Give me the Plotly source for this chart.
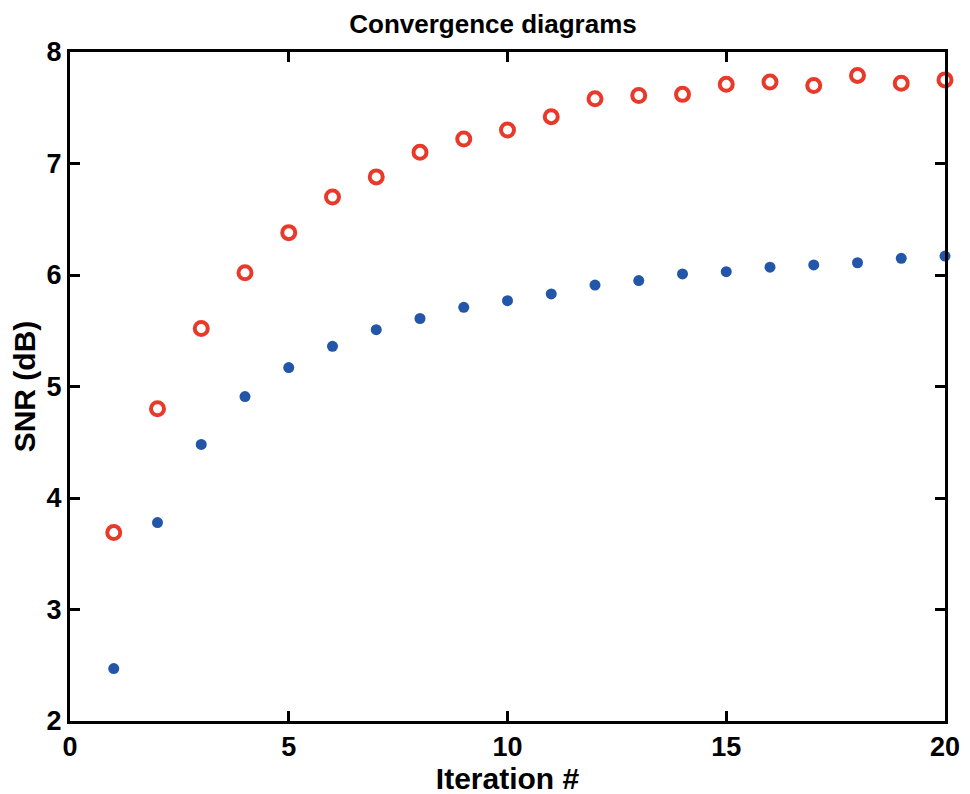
import plotly.graph_objects as go

iterations = list(range(1, 21))
snr_red = [3.69, 4.80, 5.52, 6.02, 6.38, 6.70, 6.88, 7.10, 7.22, 7.30,
           7.42, 7.58, 7.61, 7.62, 7.71, 7.73, 7.70, 7.79, 7.72, 7.75]
snr_blue = [2.47, 3.78, 4.48, 4.91, 5.17, 5.36, 5.51, 5.61, 5.71, 5.77,
            5.83, 5.91, 5.95, 6.01, 6.03, 6.07, 6.09, 6.11, 6.15, 6.17]
x_ticks = [0, 5, 10, 15, 20]
y_ticks = [2, 3, 4, 5, 6, 7, 8]

FONT = "Liberation Sans, Arial, Helvetica"

fig = go.Figure()
fig.add_trace(go.Scatter(
    x=iterations, y=snr_red, mode="markers", cliponaxis=False,
    marker=dict(symbol="circle-open", size=13, color="#e8392b",
                line=dict(width=4, color="#e8392b")),
    showlegend=False))
fig.add_trace(go.Scatter(
    x=iterations, y=snr_blue, mode="markers", cliponaxis=False,
    marker=dict(symbol="circle", size=11, color="#2356a8"),
    showlegend=False))

axis_common = dict(
    showline=True, linecolor="black", linewidth=3, mirror="allticks",
    ticks="inside", ticklen=10, tickwidth=3, tickcolor="black",
    showgrid=False, zeroline=False,
    tickfont=dict(family=FONT, size=27, color="black", weight="bold"),
)

fig.update_layout(
    width=970, height=794,
    margin=dict(l=62, r=33, t=44, b=81),
    plot_bgcolor="white", paper_bgcolor="white",
    title=dict(text="Convergence diagrams", x=0.5, xanchor="center", y=0.992, yanchor="top",
               font=dict(family=FONT, size=26, color="black", weight="bold")),
    xaxis=dict(range=[0, 20], tickvals=x_ticks, ticktext=[str(v) for v in x_ticks],
               title=dict(text="Iteration #", standoff=2,
                          font=dict(family=FONT, size=30, color="black", weight="bold")),
               **axis_common),
    yaxis=dict(range=[2, 8], tickvals=y_ticks, ticktext=[str(v) for v in y_ticks],
               title=dict(text="SNR (dB)", standoff=6,
                          font=dict(family=FONT, size=30, color="black", weight="bold")),
               **axis_common),
)

fig.write_html("out.html")
